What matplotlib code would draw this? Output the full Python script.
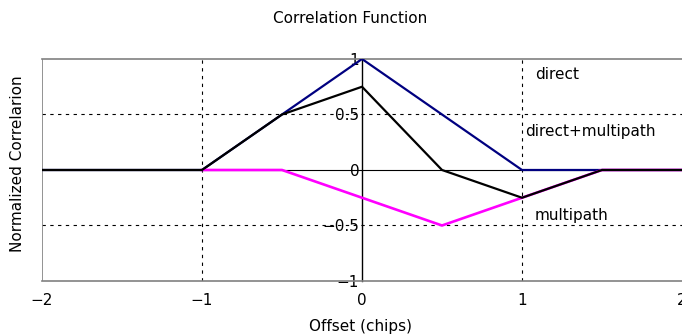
import matplotlib
matplotlib.use('Agg')
import matplotlib.pyplot as plt

font_size = 11

# offset in chips
offset = [-2, -1.5, -1, -0.5, 0, 0.5, 1, 1.5, 2]
direct = [0, 0, 0, 0.5, 1, 0.5, 0, 0, 0]
multipath = [0, 0, 0, 0, -0.25, -0.5, -0.25, 0, 0]
combined = [0, 0, 0, 0.5, 0.75, 0, -0.25, 0, 0]

x_ticks = [-2, -1, 0, 1, 2]
x_tick_labels = ['\u22122', '\u22121', '0', '1', '2']
y_ticks = [-1, -0.5, 0, 0.5, 1]
y_tick_labels = ['\u22121', '\u22120.5', '0', '0.5', '1']

fig = plt.figure(figsize=(6.82, 3.34), dpi=100)
ax = fig.add_axes([0.0616, 0.1587, 0.9384, 0.6647])

# dashed grid first, then series on top
for xv in [-1, 1]:
    ax.axvline(xv, color='black', lw=0.8, ls=(0, (3, 4)), zorder=1)
for yv in [-0.5, 0.5]:
    ax.axhline(yv, color='black', lw=0.8, ls=(0, (3, 4)), zorder=1)
ax.axhline(0, color='black', lw=0.8, zorder=1)
ax.axvline(-2, color='gray', lw=1.2, zorder=1)

ax.plot(offset, direct, color='#000080', lw=1.6, zorder=3)
ax.plot(offset[2:], multipath[2:], color='#FF00FF', lw=1.9, zorder=3)
ax.plot(offset, combined, color='black', lw=1.6, zorder=4)

ax.text(1.08, 0.86, 'direct', fontsize=font_size, va='center')
ax.text(1.02, 0.35, 'direct+multipath', fontsize=font_size, va='center')
ax.text(1.08, -0.41, 'multipath', fontsize=font_size, va='center')

ax.set_xlim(-2, 2)
ax.set_ylim(-1, 1)
ax.set_xticks(x_ticks)
ax.set_xticklabels(x_tick_labels)
ax.set_yticks(y_ticks)
ax.set_yticklabels(y_tick_labels)
ax.tick_params(axis='x', length=0, pad=9, labelsize=font_size)
ax.tick_params(axis='y', length=0, pad=2, labelsize=font_size)

ax.spines['left'].set_position(('data', 0))
ax.spines['left'].set_color('black')
ax.spines['left'].set_linewidth(1)
ax.spines['right'].set_visible(False)
for side in ['top', 'bottom']:
    ax.spines[side].set_color('gray')
    ax.spines[side].set_linewidth(1.2)

fig.text(0.513, 0.945, 'Correlation Function', fontsize=font_size,
         ha='center', va='center')
fig.text(0.528, 0.022, 'Offset (chips)', fontsize=font_size,
         ha='center', va='center')
fig.text(0.026, 0.51, 'Normalized Correlarion', fontsize=font_size,
         ha='center', va='center', rotation=90)

plt.savefig('out.png', dpi=100)
plt.close()
